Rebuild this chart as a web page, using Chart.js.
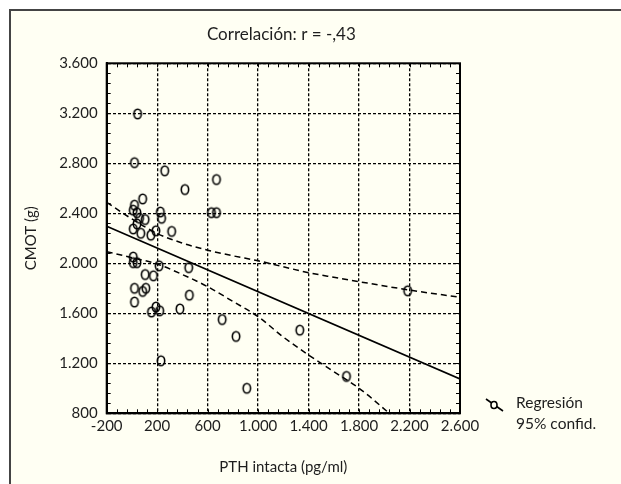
<!DOCTYPE html>
<html>
<head>
<meta charset="utf-8">
<script src="https://cdn.jsdelivr.net/npm/chart.js@4"></script>
<style>
  html, body { margin: 0; padding: 0; background: #ffffff; }
  #wrap { width: 621px; height: 484px; position: relative; }
</style>
</head>
<body>
<div id="wrap"><canvas id="c" width="621" height="484"></canvas></div>
<script>
// ---- data ----
const chartTitle = 'Correlación: r = -,43';
const xAxisTitle = 'PTH intacta (pg/ml)';
const yAxisTitle = 'CMOT (g)';
const legendLines = ['Regresión', '95% confid.'];

const xTickLabels = ['-200', '200', '600', '1.000', '1.400', '1.800', '2.200', '2.600'];
const yTickLabels = ['800', '1.200', '1.600', '2.000', '2.400', '2.800', '3.200', '3.600'];

// observed points (PTH intacta, CMOT)
const ptX = [45, 20, 260, 670, 420, 85, 20, 10, 40, 225, 235, 630, 670, 60, 105, 40, 10, 70, 150, 190, 315,
             10, 10, 40, 215, 450, 105, 170, 20, 110, 85, 455, 20, 190, 220, 155, 380, 715, 825, 230, 910, 1330, 1700, 2185];
const ptY = [3195, 2805, 2740, 2670, 2590, 2515, 2465, 2425, 2405, 2410, 2360, 2405, 2405, 2360, 2350, 2315, 2275, 2240, 2225, 2260, 2255,
             2050, 2005, 2005, 1980, 1965, 1910, 1900, 1800, 1800, 1775, 1745, 1690, 1650, 1620, 1610, 1635, 1550, 1415, 1220, 1000, 1465, 1095, 1780];

// regression line end points
const regX = [-200, 2600];
const regY = [2296, 1075];

// 95% confidence band
const bandX     = [-200, 0, 200, 400, 600, 800, 1000, 1200, 1400, 1600, 1800, 2200, 2600];
const bandUpper = [2487, 2355, 2238, 2162, 2105, 2060, 2020, 1972, 1925, 1888, 1853, 1786, 1728];
const bandLower = [2093, 2045, 1994, 1910, 1813, 1695, 1573, 1410, 1266, 1133, 1000, 660, 330];

// ---- styling helpers ----
const FONT = 'Lato, "Open Sans", sans-serif';
const INK = '#1e1e1e';
const CREAM = '#fffff3';

function ellipseMarker() {
  const cv = document.createElement('canvas');
  cv.width = 12; cv.height = 14;
  const g = cv.getContext('2d');
  g.strokeStyle = '#000';
  g.lineWidth = 1.6;
  g.beginPath();
  g.ellipse(6, 7, 3.7, 4.8, 0, 0, Math.PI * 2);
  g.stroke();
  return cv;
}
const marker = ellipseMarker();

const toXY = (xs, ys) => xs.map((x, i) => ({ x: x, y: ys[i] }));

const decorPlugin = {
  id: 'decor',
  beforeDraw(chart) {
    const ctx = chart.ctx;
    ctx.save();
    ctx.fillStyle = '#ffffff';
    ctx.fillRect(0, 0, chart.width, chart.height);
    ctx.fillStyle = CREAM;
    ctx.fillRect(10, 10, chart.width, chart.height);
    ctx.strokeStyle = '#444';
    ctx.lineWidth = 2;
    ctx.beginPath();
    ctx.moveTo(10, chart.height + 2);
    ctx.lineTo(10, 10);
    ctx.lineTo(chart.width + 2, 10);
    ctx.stroke();
    ctx.restore();
  },
  afterDraw(chart) {
    const ctx = chart.ctx;
    const a = chart.chartArea;
    const xs = chart.scales.x, ys = chart.scales.y;
    ctx.save();
    // minor ticks inward on all sides
    ctx.strokeStyle = '#000';
    ctx.lineWidth = 1;
    ctx.beginPath();
    for (let v = xs.min; v <= xs.max + 0.1; v += 80) {
      const px = Math.round(xs.getPixelForValue(v)) + 0.5;
      ctx.moveTo(px, a.top); ctx.lineTo(px, a.top + 4);
      ctx.moveTo(px, a.bottom); ctx.lineTo(px, a.bottom - 4);
    }
    for (let v = ys.min; v <= ys.max + 0.1; v += 80) {
      const py = Math.round(ys.getPixelForValue(v)) + 0.5;
      ctx.moveTo(a.left, py); ctx.lineTo(a.left + 4, py);
      ctx.moveTo(a.right, py); ctx.lineTo(a.right - 4, py);
    }
    ctx.stroke();
    // frame
    ctx.lineWidth = 2;
    ctx.strokeRect(a.left, a.top, a.right - a.left, a.bottom - a.top);

    // texts
    ctx.fillStyle = INK;
    ctx.textAlign = 'center';
    ctx.textBaseline = 'alphabetic';
    ctx.font = '17px ' + FONT;
    const cx = (a.left + a.right) / 2;
    ctx.fillText(chartTitle, cx - 2, 40);
    ctx.font = '15px ' + FONT;
    ctx.fillText(xAxisTitle, cx, 472);
    ctx.save();
    ctx.translate(36, (a.top + a.bottom) / 2);
    ctx.rotate(-Math.PI / 2);
    ctx.fillText(yAxisTitle, 0, 0);
    ctx.restore();

    // legend
    ctx.strokeStyle = '#000';
    ctx.lineWidth = 1.6;
    ctx.beginPath();
    ctx.moveTo(486, 399); ctx.lineTo(503, 411);
    ctx.stroke();
    ctx.fillStyle = CREAM;
    ctx.beginPath();
    ctx.ellipse(494, 405, 3, 3.5, 0, 0, Math.PI * 2);
    ctx.fill();
    ctx.stroke();
    ctx.fillStyle = INK;
    ctx.textAlign = 'left';
    ctx.font = '15.5px ' + FONT;
    ctx.fillText(legendLines[0], 516, 408);
    ctx.fillText(legendLines[1], 516, 429);
    ctx.restore();
  }
};

new Chart(document.getElementById('c'), {
  type: 'scatter',
  data: {
    datasets: [
      {
        label: 'Regresión',
        type: 'line',
        data: toXY(regX, regY),
        borderColor: '#000',
        borderWidth: 1.7,
        pointRadius: 0,
        fill: false,
        order: 2
      },
      {
        label: '95% sup.',
        type: 'line',
        data: toXY(bandX, bandUpper),
        borderColor: '#000',
        borderWidth: 1.5,
        borderDash: [6, 4],
        pointRadius: 0,
        cubicInterpolationMode: 'monotone',
        fill: false,
        order: 3
      },
      {
        label: '95% inf.',
        type: 'line',
        data: toXY(bandX, bandLower),
        borderColor: '#000',
        borderWidth: 1.5,
        borderDash: [6, 4],
        pointRadius: 0,
        cubicInterpolationMode: 'monotone',
        fill: false,
        order: 3
      },
      {
        label: 'CMOT',
        data: toXY(ptX, ptY),
        pointStyle: marker,
        pointRadius: 5,
        pointHoverRadius: 5,
        showLine: false,
        order: 1
      }
    ]
  },
  options: {
    responsive: false,
    animation: false,
    events: [],
    layout: { padding: { top: 63.3, right: 161, left: 0, bottom: 0 } },
    plugins: {
      legend: { display: false },
      title: { display: false },
      tooltip: { enabled: false }
    },
    scales: {
      x: {
        type: 'linear',
        min: -200,
        max: 2600,
        afterFit(s) { s.height = 70.7; },
        afterBuildTicks(s) {
          s.ticks = xTickLabels.map((t, i) => ({ value: -200 + 400 * i }));
        },
        ticks: {
          color: INK,
          font: { family: FONT, size: 15 },
          padding: 4,
          maxRotation: 0,
          autoSkip: false,
          callback: (v, i) => xTickLabels[i]
        },
        grid: {
          color: '#000',
          lineWidth: 1.3,
          drawTicks: false
        },
        border: { display: true, color: '#000', width: 2, dash: [3, 2] }
      },
      y: {
        type: 'linear',
        min: 800,
        max: 3600,
        afterFit(s) { s.width = 106.7; },
        afterBuildTicks(s) {
          s.ticks = yTickLabels.map((t, i) => ({ value: 800 + 400 * i }));
        },
        ticks: {
          color: INK,
          font: { family: FONT, size: 15 },
          padding: 9,
          autoSkip: false,
          callback: (v, i) => yTickLabels[i]
        },
        grid: {
          color: '#000',
          lineWidth: 1.3,
          drawTicks: false
        },
        border: { display: true, color: '#000', width: 2, dash: [3, 2] }
      }
    }
  },
  plugins: [decorPlugin]
});
</script>
</body>
</html>
